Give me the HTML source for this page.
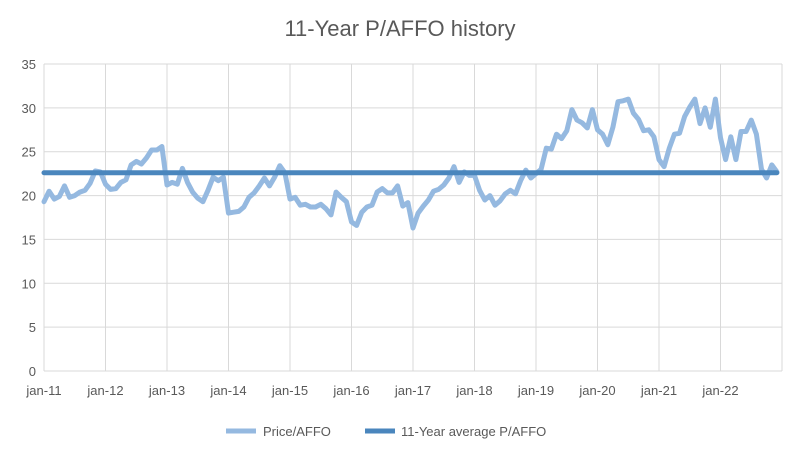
<!DOCTYPE html>
<html><head><meta charset="utf-8"><style>
body{margin:0;background:#fff;font-family:"Liberation Sans",sans-serif;}
svg text{font-family:"Liberation Sans",sans-serif;fill:#595959;}
</style></head><body>
<svg id="chart" width="797" height="449" viewBox="0 0 797 449" xmlns="http://www.w3.org/2000/svg">
<rect width="797" height="449" fill="#fff"/>
<text x="400" y="36" text-anchor="middle" font-size="22">11-Year P/AFFO history</text>
<g id="grid"></g><g id="yticks"></g><g id="xticks"></g><g id="series"></g>
<g>
<line x1="226" y1="431" x2="256" y2="431" stroke="#95b9e0" stroke-width="5"/>
<text x="263" y="436" font-size="13">Price/AFFO</text>
<line x1="365" y1="431" x2="395" y2="431" stroke="#4a86bd" stroke-width="5"/>
<text x="401" y="436" font-size="13">11-Year average P/AFFO</text>
</g>
</svg>
<script>
const yTicks=[0,5,10,15,20,25,30,35];
const xLabels=["jan-11","jan-12","jan-13","jan-14","jan-15","jan-16","jan-17","jan-18","jan-19","jan-20","jan-21","jan-22"];
const averageValue=22.6;
const priceAffo=[
19.3,20.5,19.6,19.9,21.1,19.8,20.0,20.4,20.6,21.4,22.8,22.7,
21.3,20.7,20.8,21.5,21.8,23.5,23.9,23.6,24.3,25.2,25.2,25.6,
21.2,21.5,21.3,23.1,21.5,20.4,19.7,19.3,20.6,22.1,21.7,22.1,
18.0,18.1,18.2,18.7,19.8,20.3,21.1,22.0,21.1,22.1,23.4,22.6,
19.6,19.8,18.9,19.0,18.7,18.7,19.0,18.5,17.8,20.4,19.8,19.3,
17.0,16.6,18.1,18.7,18.9,20.4,20.8,20.3,20.3,21.1,18.8,19.2,
16.3,18.0,18.8,19.5,20.5,20.7,21.2,22.0,23.3,21.5,22.7,22.3,
22.3,20.6,19.5,20.0,18.9,19.4,20.2,20.6,20.2,21.7,22.9,22.0,
22.5,23.0,25.4,25.3,27.0,26.5,27.4,29.8,28.6,28.3,27.7,29.8,
27.5,27.0,25.8,27.8,30.7,30.8,31.0,29.4,28.7,27.4,27.5,26.7,
24.1,23.3,25.4,27.0,27.1,29.0,30.1,31.0,28.2,30.0,27.8,31.0,
26.6,24.1,26.7,24.1,27.3,27.3,28.6,27.0,23.0,22.0,23.5,22.7];
const NS="http://www.w3.org/2000/svg";
const L=44,R=782,T=64,B=371;
const yScale=v=>B-(v/35)*(B-T);
const xScale=m=>L+m*(R-L)/144;
function mk(tag,attrs,parent){const e=document.createElementNS(NS,tag);for(const k in attrs)e.setAttribute(k,attrs[k]);parent.appendChild(e);return e;}
const grid=document.getElementById('grid'),yt=document.getElementById('yticks'),xt=document.getElementById('xticks'),ser=document.getElementById('series');
yTicks.forEach(v=>{
 const g=mk('line',{x1:L,x2:R,y1:yScale(v),y2:yScale(v),stroke:'#d9d9d9','stroke-width':1},grid);
 
 
 const t=mk('text',{x:L-8,y:yScale(v)+5,'text-anchor':'end','font-size':13},yt);
 t.textContent=v;
 
 
});
for(let i=0;i<=xLabels.length;i++){
 const x=xScale(i*12);
 const g=mk('line',{x1:x,x2:x,y1:T,y2:B,stroke:'#d9d9d9','stroke-width':1},grid);
 
 
}
xLabels.forEach((lab,i)=>{
 const t=mk('text',{x:xScale(i*12),y:395,'text-anchor':'middle','font-size':13},xt);
 t.textContent=lab;
 
 
});
const pts=priceAffo.map((v,i)=>xScale(i).toFixed(1)+','+yScale(v).toFixed(1)).join(' ');
const pl=mk('polyline',{points:pts,fill:'none',stroke:'#95b9e0','stroke-width':5,'stroke-linejoin':'round','stroke-linecap':'round'},ser);


const av=mk('line',{x1:xScale(0),x2:xScale(priceAffo.length-1),y1:yScale(averageValue),y2:yScale(averageValue),stroke:'#4a86bd','stroke-width':5,'stroke-linecap':'round'},ser);


</script>
</body></html>
